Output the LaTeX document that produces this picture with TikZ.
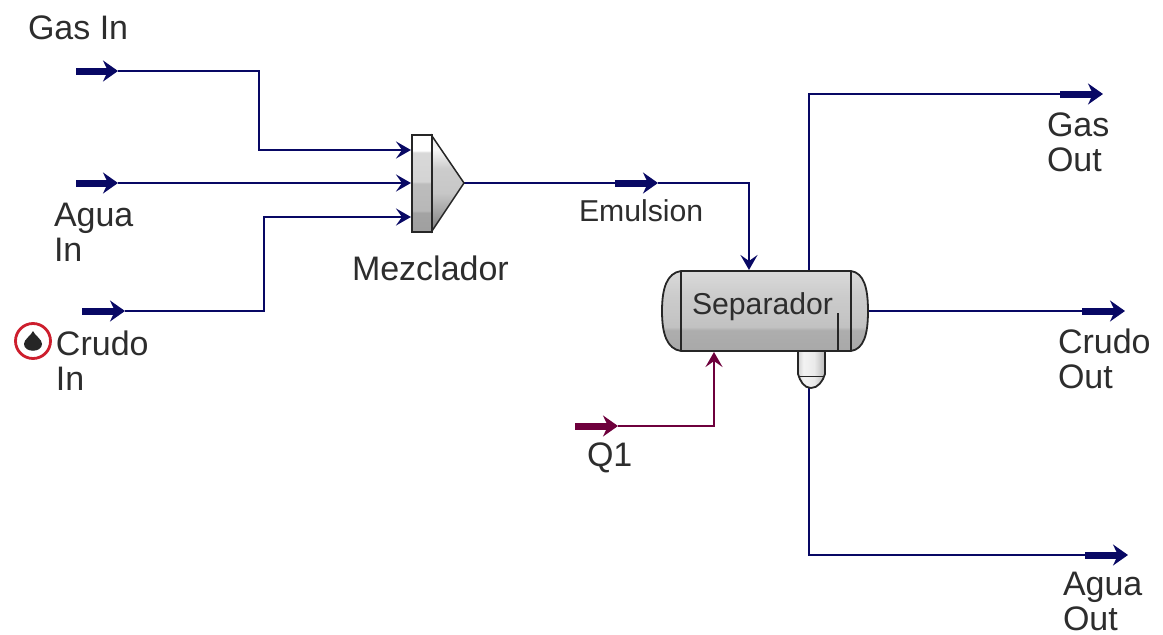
\documentclass[tikz,border=0pt]{standalone}
\usepackage{fontspec}
\setmainfont{Liberation Sans}
\usetikzlibrary{arrows.meta}
\definecolor{strm}{RGB}{8,8,100}
\definecolor{heat}{RGB}{110,0,60}
\definecolor{lbl}{RGB}{45,45,45}
\pgfdeclareverticalshading{vesselbody}{100bp}{
 rgb(0bp)=(0.46,0.46,0.46);rgb(22bp)=(0.54,0.54,0.54);rgb(24bp)=(0.66,0.66,0.66);rgb(38bp)=(0.68,0.68,0.68);
 rgb(40bp)=(0.76,0.76,0.76);rgb(60bp)=(0.80,0.80,0.80);rgb(82bp)=(0.88,0.88,0.88);rgb(92bp)=(0.80,0.80,0.80);rgb(100bp)=(0.48,0.48,0.48)}
\pgfdeclareverticalshading{mixerbody}{100bp}{
 rgb(0bp)=(0.36,0.36,0.36);rgb(9bp)=(0.38,0.38,0.38);rgb(10bp)=(0.50,0.50,0.50);rgb(20bp)=(0.52,0.52,0.52);rgb(21bp)=(0.62,0.62,0.62);
 rgb(35bp)=(0.64,0.64,0.64);rgb(36bp)=(0.72,0.72,0.72);rgb(50bp)=(0.74,0.74,0.74);rgb(51bp)=(0.83,0.83,0.83);rgb(66bp)=(0.85,0.85,0.85);rgb(67bp)=(1,1,1);rgb(90bp)=(1,1,1);rgb(93bp)=(0.75,0.75,0.75);rgb(100bp)=(0.55,0.55,0.55)}
\pgfdeclareverticalshading{mixercone}{100bp}{
 rgb(0bp)=(0.30,0.30,0.30);rgb(25bp)=(0.50,0.50,0.50);rgb(45bp)=(0.78,0.78,0.78);rgb(58bp)=(0.80,0.80,0.80);rgb(68bp)=(0.97,0.97,0.97);rgb(85bp)=(0.85,0.85,0.85);rgb(100bp)=(0.45,0.45,0.45)}
\pgfdeclarehorizontalshading{bootshade}{100bp}{
 rgb(0bp)=(0.50,0.50,0.50);rgb(35bp)=(0.95,0.95,0.95);rgb(55bp)=(0.92,0.92,0.92);rgb(100bp)=(0.48,0.48,0.48)}
\tikzset{
 x=1pt,y=-1pt,
 lab/.style={anchor=west,inner sep=0pt,outer sep=0pt,text=lbl,align=left,font=\fontsize{34}{35}\selectfont},
 smalllab/.style={lab,font=\fontsize{30.2}{33}\selectfont},
 pipe/.style={draw=strm,line width=2.8pt,line join=miter},
 heatpipe/.style={draw=heat,line width=2.8pt,line join=miter},
 into/.style={-{Stealth[length=15pt,width=17pt,inset=6pt]}},
 band/.style={line width=7pt,-{Stealth[length=15pt,width=21pt,inset=5pt]}},
 vessel/.style={draw=black!85,line width=1.8pt},
}
\begin{document}
\begin{tikzpicture}
\useasboundingbox (0,0) rectangle (1163,635);
% ports
\coordinate (gasS) at (76,71);   \coordinate (gasT) at (118,71);
\coordinate (agS) at (76,183);   \coordinate (agT) at (118,183);
\coordinate (crS) at (82,311);   \coordinate (crT) at (125,311);
\coordinate (mixA) at (411,150); \coordinate (mixB) at (411,183); \coordinate (mixC) at (411,217);
\coordinate (mixOut) at (464,183);
\coordinate (emS) at (615,183);  \coordinate (emT) at (658,183);
\coordinate (sepIn) at (749,270);
\coordinate (sepTop) at (809,271);
\coordinate (sepRight) at (868,311);
\coordinate (bootOut) at (809,388);
\coordinate (sepQ) at (714,352);
\coordinate (qS) at (575,426);   \coordinate (qT) at (618,426);
\coordinate (goS) at (1060,94);  \coordinate (goT) at (1103,94);
\coordinate (coS) at (1082,311); \coordinate (coT) at (1125,311);
\coordinate (aoS) at (1085,555); \coordinate (aoT) at (1128,555);
% pipes
\draw[pipe,into] (gasT) -| (259,150) -- (mixA);
\draw[pipe,into] (agT) -- (mixB);
\draw[pipe,into] (crT) -| (264,217) -- (mixC);
\draw[pipe] (mixOut) -- (emS);
\draw[pipe,into] (emT) -| (sepIn);
\draw[pipe] (sepTop) |- (goS);
\draw[pipe] (sepRight) -- (coS);
\draw[pipe] (bootOut) |- (aoS);
\draw[heatpipe,into] (qT) -| (sepQ);
% stream tags
\foreach \a/\b in {gasS/gasT,agS/agT,crS/crT,emS/emT,goS/goT,coS/coT,aoS/aoT}
  \draw[draw=strm,fill=strm,band] (\a) -- (\b);
\draw[draw=heat,fill=heat,band] (qS) -- (qT);
% mixer
\shade[shading=mixercone,draw=black!85,line width=1.5pt] (432,136) -- (464,183) -- (432,231) -- cycle;
\shade[shading=mixerbody,draw=black!85,line width=1.8pt] (412,135) rectangle (432,232);
% separator
\shade[shading=vesselbody,vessel] (681,271) .. controls (667,273) and (662,288) .. (662,311)
   .. controls (662,334) and (667,349) .. (681,351) -- (851,351)
   .. controls (864,349) and (868,334) .. (868,311)
   .. controls (868,288) and (864,273) .. (851,271) -- cycle;
\draw[vessel] (681,271) -- (681,351) (851,271) -- (851,351);
\draw[vessel,line width=1.5pt] (838,313) -- (838,351);
\shade[shading=bootshade,vessel] (798,351) -- (798,374) .. controls (800,381) and (804,388) .. (811,388)
   .. controls (818,388) and (823,381) .. (825,374) -- (825,351) -- cycle;
\draw[vessel,line width=1pt] (798,376) -- (825,376);
% crude marker
\node[circle,draw={rgb,255:red,205;green,30;blue,45},line width=2.8pt,fill=white,minimum size=35pt,inner sep=0pt] (marker) at (33,341) {};
\fill[black!85] (33,331) .. controls (35,336) and (42,339) .. (42,344) .. controls (42,353) and (24,353) .. (24,344) .. controls (24,339) and (31,336) .. (33,331) -- cycle;
% labels
\node[lab] (lgas) at (28,28) {Gas In};
\node[lab] (lagua) at (54,232) {Agua\\In};
\node[lab] (lcrudo) at (56,361) {Crudo\\In};
\node[lab] (lmez) at (352,268) {Mezclador};
\node[smalllab] (lem) at (579,211) {Emulsion};
\node[smalllab] (lsep) at (692,307) {Separador};
\node[lab] (lq) at (587,458) {Q1};
\node[lab] (lgo) at (1047,142) {Gas\\Out};
\node[lab] (lco) at (1058,359) {Crudo\\Out};
\node[lab] (lao) at (1063,601) {Agua\\Out};
\end{tikzpicture}
\end{document}
